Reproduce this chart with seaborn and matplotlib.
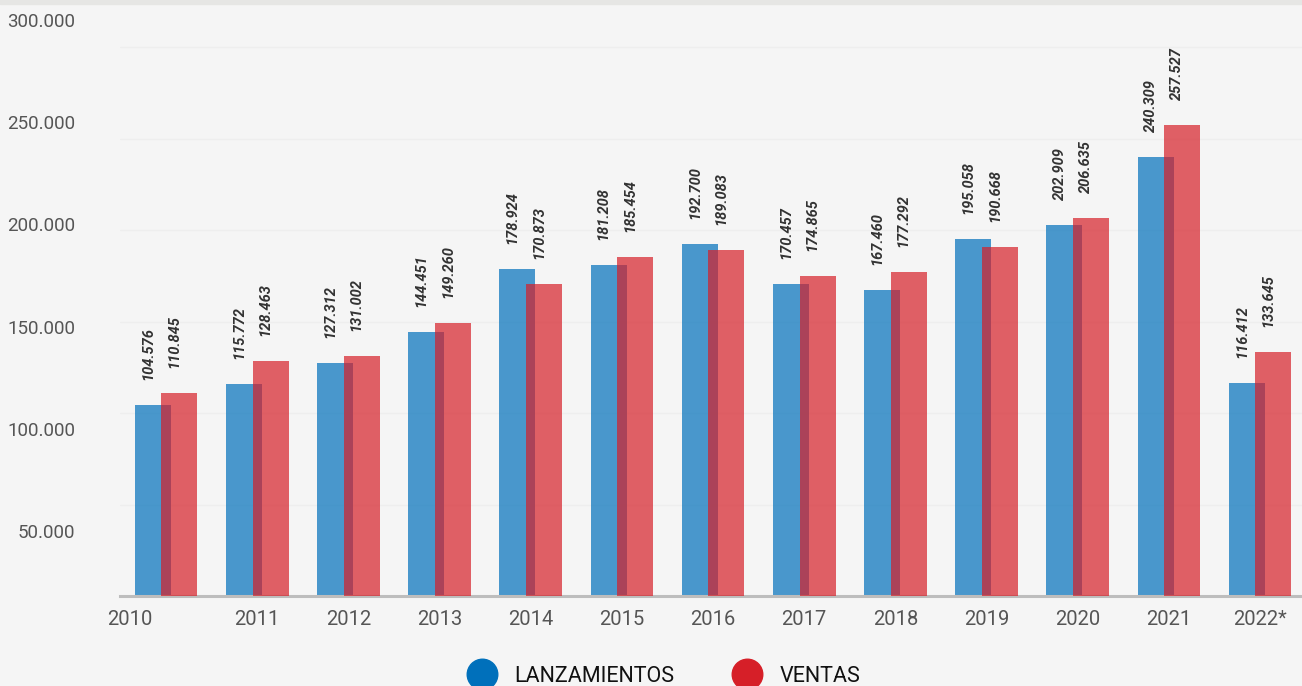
import numpy as np
import pandas as pd
import seaborn as sns
import matplotlib.pyplot as plt
import matplotlib.transforms as mtransforms
from matplotlib.lines import Line2D
from matplotlib.patches import Rectangle

years = ["2010", "2011", "2012", "2013", "2014", "2015", "2016",
         "2017", "2018", "2019", "2020", "2021", "2022*"]
lanzamientos = [104576, 115772, 127312, 144451, 178924, 181208, 192700,
                170457, 167460, 195058, 202909, 240309, 116412]
ventas = [110845, 128463, 131002, 149260, 170873, 185454, 189083,
          174865, 177292, 190668, 206635, 257527, 133645]
ytick_labels = ["50.000", "100.000", "150.000", "200.000", "250.000", "300.000"]
series_names = ["LANZAMIENTOS", "VENTAS"]

blue = "#0070bb"
red = "#d61f28"
bg = "#f5f5f5"

sns.set_theme(style="white")
plt.rcParams['font.family'] = ['Roboto', 'DejaVu Sans']

fig = plt.figure(figsize=(13.02, 6.86), dpi=100, facecolor=bg)
ax = fig.add_axes([120 / 1302, 90 / 686, 1 - 120 / 1302, 576 / 686])
ax.set_facecolor(bg)

# thin grey strip along the top edge
fig.add_artist(Rectangle((0, 1 - 4 / 686), 1, 4 / 686, transform=fig.transFigure,
                         color="#e6e6e4", zorder=0))

pos = np.arange(len(years))
off = 0.146
sns.barplot(x=pos - off, y=lanzamientos, native_scale=True, width=0.395,
            color=blue, saturation=1, alpha=0.7, linewidth=0, ax=ax, zorder=2)
sns.barplot(x=pos + off, y=ventas, native_scale=True, width=0.395,
            color=red, saturation=1, alpha=0.7, linewidth=0, ax=ax, zorder=3)

def fmt(v):
    return f"{v:,}".replace(",", ".")

for i in range(len(years)):
    for x, v in ((pos[i] - off, lanzamientos[i]), (pos[i] + off, ventas[i])):
        ax.annotate(fmt(v), (x, v), xytext=(-3.5, 18), textcoords="offset points",
                    rotation=90, ha="center", va="bottom", fontsize=10.5,
                    fontweight="bold", fontstyle="italic", color="#333333")

ax.set_xlim(-0.505, 12.46)
ax.set_ylim(0, 315000)
ax.set_yticks([50000, 100000, 150000, 200000, 250000, 300000])
ax.set_yticklabels([])
ax.tick_params(axis="y", length=0)
ax.grid(axis="y", color="#eeeeee", linewidth=1)
ax.set_axisbelow(True)

ax.set_xticks(pos)
ax.set_xticklabels(years, fontsize=14.5, color="#555555")
ax.tick_params(axis="x", length=0, pad=10)
shift = mtransforms.ScaledTranslation(-36 / 100, 0, fig.dpi_scale_trans)
ax.get_xticklabels()[0].set_transform(ax.get_xticklabels()[0].get_transform() + shift)

for s in ("top", "right", "left"):
    ax.spines[s].set_visible(False)
ax.spines["bottom"].set_color("#bdbdbd")
ax.spines["bottom"].set_linewidth(2.2)

# value axis labels as printed in the source chart
ax2 = ax.twinx()
ax2.set_ylim(18200, 300000)
ax2.set_yticks([50000, 100000, 150000, 200000, 250000, 300000])
ax2.set_yticklabels(ytick_labels, fontsize=13.5, color="#555555")
ax2.yaxis.tick_left()
ax2.tick_params(axis="y", length=0, pad=32)
for s in ax2.spines.values():
    s.set_visible(False)

handles = [Line2D([], [], marker="o", linestyle="", markersize=22, color=c)
           for c in (blue, red)]
fig.legend(handles, series_names, loc="center", bbox_to_anchor=(0.507, 0.014),
           ncol=2, frameon=False, fontsize=15.5, columnspacing=2.4,
           handletextpad=0.5, labelcolor="#111111")

fig.savefig("out.png", dpi=100, facecolor=bg)
